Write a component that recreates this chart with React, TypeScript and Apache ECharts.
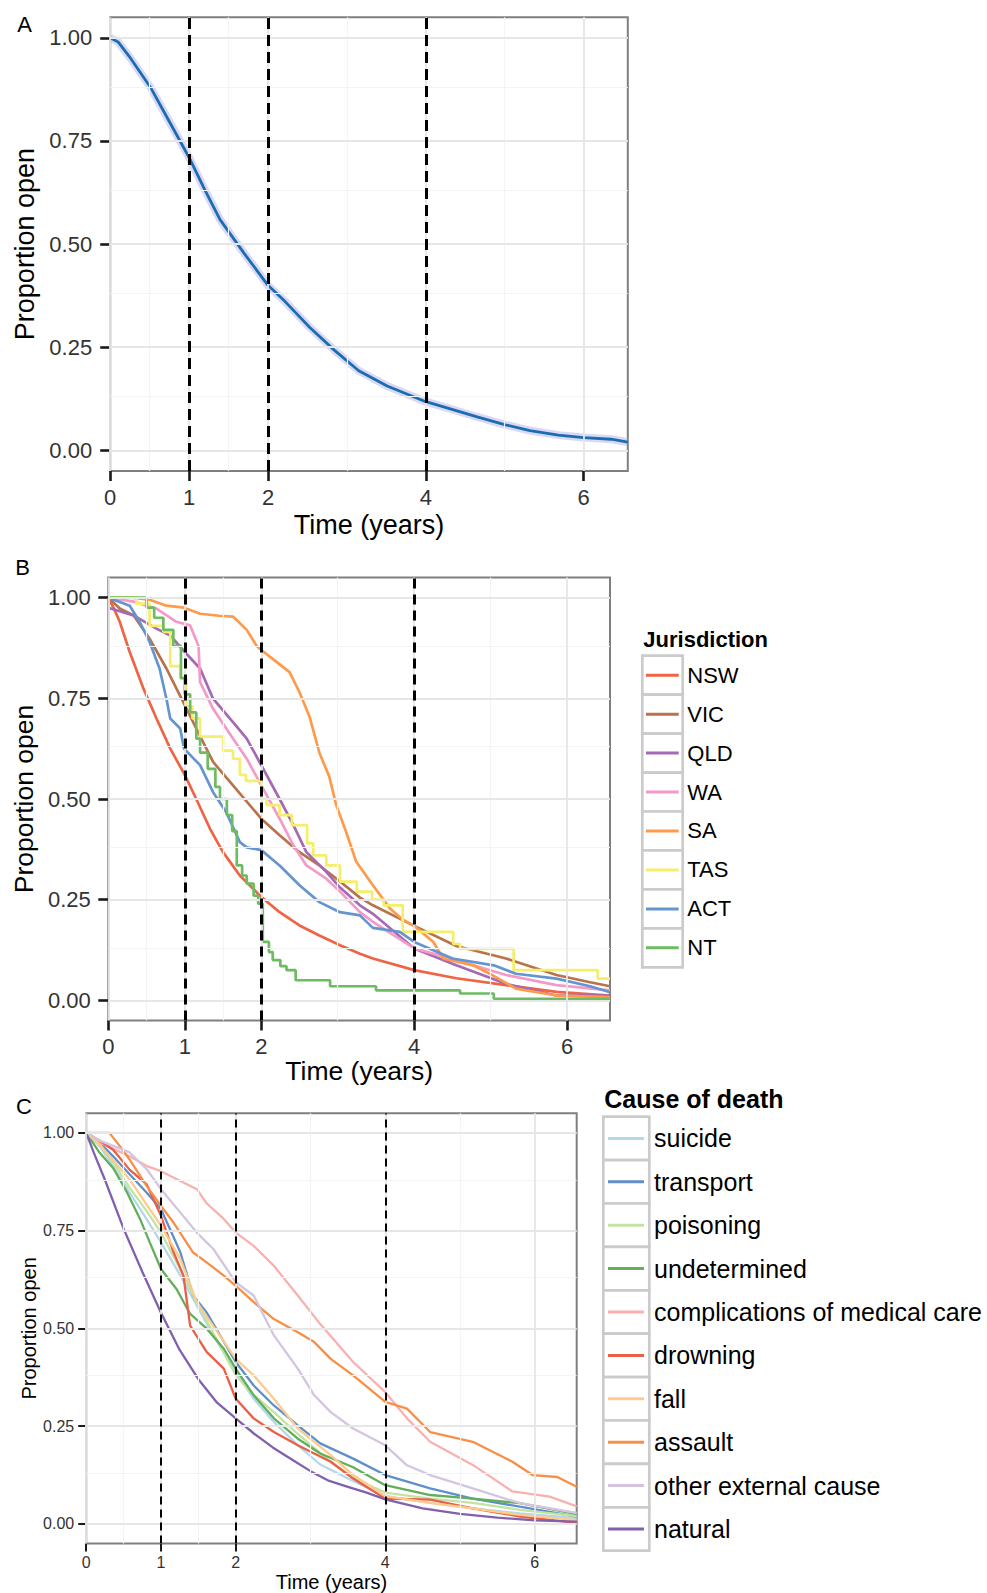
import React, { useEffect, useRef } from "react";
import * as echarts from "echarts";

// ---------- data ----------
const X_TICKS = [0, 1, 2, 4, 6];
const X_MINOR = [0.5, 1.5, 3, 5];
const Y_TICKS = [0, 0.25, 0.5, 0.75, 1];
const Y_MINOR = [0.125, 0.375, 0.625, 0.875];
const V_LINES = [1, 2, 4];
const X_MAX = 6.56;

// Panel A: all deaths
const ALL_CURVE = [
  [0, 1.0], [0.1, 0.99], [0.26, 0.95], [0.52, 0.877], [0.77, 0.79], [1.0, 0.71],
  [1.19, 0.635], [1.39, 0.56], [1.7, 0.477], [2.0, 0.4], [2.22, 0.36], [2.53, 0.298],
  [2.84, 0.243], [3.15, 0.193], [3.51, 0.156], [4.0, 0.118], [4.29, 0.102], [4.65, 0.081],
  [5.01, 0.062], [5.32, 0.048], [5.68, 0.037], [6.0, 0.031], [6.35, 0.027], [6.56, 0.02],
];

// Panel B: jurisdictions
const JURISDICTIONS = ["NSW", "VIC", "QLD", "WA", "SA", "TAS", "ACT", "NT"];
const NSW = [
  [0, 1.0], [0.08, 0.97], [0.15, 0.94], [0.28, 0.865], [0.46, 0.774], [0.63, 0.7], [0.81, 0.625],
  [1.0, 0.56], [1.15, 0.5], [1.33, 0.426], [1.5, 0.368], [1.72, 0.31], [2.0, 0.257], [2.24, 0.219],
  [2.5, 0.186], [2.76, 0.161], [3.03, 0.137], [3.29, 0.116], [3.46, 0.104], [4.0, 0.075],
  [4.55, 0.055], [5.2, 0.038], [5.86, 0.021], [6.56, 0.012],
];
const VIC = [
  [0, 1.0], [0.15, 0.973], [0.33, 0.956], [0.54, 0.898], [0.76, 0.824], [1.0, 0.733], [1.15, 0.675],
  [1.37, 0.592], [1.63, 0.534], [2.0, 0.451], [2.24, 0.41], [2.5, 0.368], [2.76, 0.335], [3.03, 0.295],
  [3.29, 0.255], [3.46, 0.236], [4.0, 0.185], [4.55, 0.135], [5.2, 0.104], [5.86, 0.063],
  [6.3, 0.045], [6.56, 0.035],
];
const QLD = [
  [0, 0.975], [0.33, 0.956], [0.63, 0.923], [0.81, 0.906], [1.0, 0.865], [1.2, 0.824], [1.37, 0.749],
  [1.63, 0.691], [1.81, 0.65], [2.0, 0.584], [2.24, 0.5], [2.42, 0.435], [2.59, 0.368], [2.85, 0.319],
  [3.03, 0.28], [3.29, 0.236], [3.46, 0.215], [4.0, 0.129], [4.55, 0.087], [5.2, 0.041],
  [5.86, 0.012], [6.56, 0.012],
];
const WA = [
  [0, 1.0], [0.33, 0.99], [0.63, 0.973], [0.89, 0.94], [1.07, 0.931], [1.18, 0.88], [1.2, 0.79],
  [1.37, 0.724], [1.63, 0.65], [1.81, 0.6], [2.0, 0.534], [2.24, 0.451], [2.42, 0.385], [2.59, 0.335],
  [2.85, 0.302], [3.03, 0.27], [3.29, 0.219], [3.46, 0.195], [4.0, 0.129], [4.55, 0.1], [5.2, 0.063],
  [5.86, 0.038], [6.56, 0.025],
];
const SA = [
  [0, 1.0], [0.3, 1.0], [0.54, 0.995], [0.76, 0.98], [0.99, 0.975], [1.2, 0.96], [1.45, 0.955],
  [1.63, 0.953], [1.81, 0.92], [1.94, 0.88], [2.0, 0.87], [2.15, 0.848], [2.37, 0.815], [2.5, 0.765],
  [2.63, 0.705], [2.76, 0.615], [2.89, 0.555], [2.98, 0.485], [3.11, 0.418], [3.24, 0.345],
  [3.46, 0.286], [3.68, 0.229], [3.85, 0.2], [4.0, 0.185], [4.25, 0.145], [4.38, 0.104],
  [4.77, 0.087], [5.0, 0.065], [5.33, 0.029], [5.86, 0.012], [6.56, 0.008],
];
const TAS = [
  [0, 1.0], [0.37, 0.985], [0.54, 0.93], [0.72, 0.915], [0.81, 0.83], [0.94, 0.8], [1.02, 0.73],
  [1.1, 0.7], [1.2, 0.655], [1.5, 0.62], [1.63, 0.6], [1.72, 0.56], [1.8, 0.545], [2.0, 0.5],
  [2.07, 0.485], [2.24, 0.46], [2.4, 0.435], [2.6, 0.39], [2.68, 0.36], [2.85, 0.335],
  [3.03, 0.295], [3.25, 0.27], [3.45, 0.25], [3.6, 0.236], [3.85, 0.17], [4.51, 0.14],
  [4.6, 0.128], [5.3, 0.075], [6.4, 0.054], [6.56, 0.054],
];
const ACT = [
  [0, 1.0], [0.28, 0.98], [0.41, 0.94], [0.54, 0.89], [0.67, 0.824], [0.76, 0.749], [0.81, 0.7],
  [0.94, 0.675], [0.99, 0.625], [1.2, 0.584], [1.37, 0.517], [1.54, 0.468], [1.72, 0.393],
  [1.81, 0.38], [2.0, 0.373], [2.24, 0.335], [2.5, 0.286], [2.76, 0.244], [3.03, 0.219],
  [3.29, 0.211], [3.46, 0.18], [3.81, 0.17], [4.0, 0.145], [4.5, 0.104], [5.04, 0.087],
  [5.33, 0.066], [5.86, 0.054], [6.3, 0.035], [6.56, 0.02],
];
const NT = [
  [0, 1.0], [0.5, 0.975], [0.6, 0.95], [0.72, 0.92], [0.85, 0.88], [0.95, 0.8], [1.0, 0.76],
  [1.07, 0.715], [1.15, 0.65], [1.2, 0.615], [1.3, 0.575], [1.4, 0.53], [1.46, 0.5], [1.55, 0.46],
  [1.62, 0.42], [1.68, 0.335], [1.75, 0.31], [1.81, 0.29], [1.9, 0.26], [1.96, 0.24], [2.02, 0.145],
  [2.1, 0.12], [2.15, 0.1], [2.25, 0.085], [2.33, 0.075], [2.45, 0.05], [2.9, 0.035], [3.5, 0.025],
  [4.6, 0.017], [5.04, 0.004], [6.56, 0.004],
];
const JUR_CURVES = [NSW, VIC, QLD, WA, SA, TAS, ACT, NT];
const JUR_STEPPED = [false, false, false, false, false, true, false, true];

// Panel C: causes of death
const CAUSES = [
  "suicide", "transport", "poisoning", "undetermined", "complications of medical care",
  "drowning", "fall", "assault", "other external cause", "natural",
];
const SUICIDE = [
  [0, 1.0], [0.18, 0.966], [0.36, 0.915], [0.58, 0.847], [0.81, 0.779], [1.0, 0.72], [1.26, 0.635],
  [1.48, 0.558], [1.7, 0.482], [2.0, 0.388], [2.24, 0.32], [2.51, 0.261], [2.83, 0.201],
  [3.13, 0.152], [3.57, 0.11], [4.0, 0.071], [4.6, 0.054], [5.17, 0.04], [5.8, 0.027], [6.56, 0.015],
];
const TRANSPORT = [
  [0, 1.0], [0.18, 0.975], [0.36, 0.94], [0.58, 0.894], [0.81, 0.847], [1.0, 0.805], [1.12, 0.754],
  [1.26, 0.694], [1.43, 0.584], [1.61, 0.541], [1.79, 0.482], [2.0, 0.414], [2.24, 0.354],
  [2.51, 0.303], [2.83, 0.252], [3.13, 0.206], [3.57, 0.167], [4.0, 0.125], [4.6, 0.091],
  [5.17, 0.065], [5.8, 0.044], [6.56, 0.019],
];
const POISONING = [
  [0, 1.0], [0.18, 0.97], [0.36, 0.925], [0.58, 0.86], [0.81, 0.8], [1.0, 0.745], [1.26, 0.65],
  [1.48, 0.567], [1.75, 0.47], [2.0, 0.38], [2.24, 0.33], [2.51, 0.286], [2.83, 0.23],
  [3.27, 0.159], [3.6, 0.115], [4.0, 0.08], [4.6, 0.065], [5.17, 0.054], [5.8, 0.036], [6.56, 0.02],
];
const UNDETERMINED = [
  [0, 1.0], [0.18, 0.949], [0.36, 0.91], [0.54, 0.85], [0.72, 0.78], [0.85, 0.72], [1.0, 0.652],
  [1.21, 0.6], [1.39, 0.537], [1.61, 0.5], [1.84, 0.448], [2.0, 0.397], [2.24, 0.329], [2.51, 0.27],
  [2.83, 0.218], [3.13, 0.18], [3.57, 0.145], [4.0, 0.099], [4.6, 0.074], [5.17, 0.065],
  [5.8, 0.053], [6.56, 0.025],
];
const COMPLICATIONS = [
  [0, 1.0], [0.18, 0.975], [0.58, 0.94], [0.81, 0.915], [1.0, 0.902], [1.26, 0.877], [1.48, 0.856],
  [1.61, 0.82], [1.84, 0.78], [2.0, 0.745], [2.24, 0.711], [2.51, 0.66], [2.83, 0.584],
  [3.13, 0.511], [3.57, 0.414], [4.0, 0.337], [4.29, 0.27], [4.6, 0.21], [5.17, 0.151],
  [5.7, 0.083], [6.2, 0.07], [6.56, 0.045],
];
const DROWNING = [
  [0, 1.0], [0.18, 0.98], [0.36, 0.957], [0.58, 0.906], [0.81, 0.868], [1.0, 0.788], [1.17, 0.694],
  [1.3, 0.635], [1.39, 0.507], [1.61, 0.44], [1.84, 0.397], [2.0, 0.32], [2.24, 0.27], [2.51, 0.235],
  [2.83, 0.201], [3.27, 0.159], [3.57, 0.116], [4.0, 0.065], [4.6, 0.062], [5.17, 0.04],
  [5.8, 0.019], [6.56, 0.003],
];
const FALL = [
  [0, 1.0], [0.18, 0.97], [0.58, 0.881], [1.0, 0.762], [1.26, 0.677], [1.48, 0.567], [2.0, 0.422],
  [2.24, 0.38], [2.51, 0.32], [2.83, 0.244], [3.27, 0.176], [3.57, 0.125], [4.0, 0.071],
  [4.6, 0.054], [5.17, 0.04], [5.8, 0.023], [6.56, 0.01],
];
const ASSAULT = [
  [0, 1.0], [0.31, 1.0], [0.45, 0.966], [0.58, 0.932], [0.81, 0.864], [1.0, 0.813], [1.17, 0.77],
  [1.43, 0.694], [1.61, 0.669], [1.84, 0.635], [2.0, 0.609], [2.24, 0.567], [2.51, 0.524],
  [2.83, 0.49], [3.05, 0.465], [3.27, 0.422], [3.57, 0.38], [4.0, 0.312], [4.29, 0.295],
  [4.6, 0.235], [5.17, 0.21], [5.7, 0.159], [5.97, 0.125], [6.3, 0.12], [6.56, 0.095],
];
const OTHER_EXTERNAL = [
  [0, 1.0], [0.18, 0.98], [0.58, 0.95], [0.81, 0.907], [1.0, 0.856], [1.26, 0.796], [1.48, 0.745],
  [1.7, 0.703], [2.0, 0.618], [2.24, 0.584], [2.51, 0.482], [2.83, 0.397], [3.05, 0.329],
  [3.27, 0.286], [3.57, 0.244], [4.0, 0.201], [4.29, 0.15], [4.6, 0.125], [5.17, 0.091],
  [5.8, 0.053], [6.56, 0.028],
];
const NATURAL = [
  [0, 1.0], [0.1, 0.95], [0.25, 0.88], [0.5, 0.755], [0.75, 0.645], [1.0, 0.54], [1.25, 0.445],
  [1.5, 0.37], [1.75, 0.31], [2.0, 0.27], [2.25, 0.23], [2.5, 0.195], [2.75, 0.165], [3.0, 0.135],
  [3.25, 0.11], [3.5, 0.095], [3.75, 0.08], [4.0, 0.063], [4.5, 0.04], [5.0, 0.026], [5.5, 0.016],
  [6.0, 0.009], [6.56, 0.006],
];
const CAUSE_CURVES = [
  SUICIDE, TRANSPORT, POISONING, UNDETERMINED, COMPLICATIONS,
  DROWNING, FALL, ASSAULT, OTHER_EXTERNAL, NATURAL,
];

// ---------- styles ----------
const FONT = "'Liberation Sans', Arial, Helvetica, sans-serif";
const JUR_COLORS = ["#EE6444", "#B8734A", "#A569B5", "#F49AC8", "#FF9A4A", "#F5EE6A", "#6595D0", "#6EBB63"];
const CAUSE_COLORS = [
  "#B4D8EA", "#5E8FCB", "#C3E3A3", "#62AE5B", "#F9B1B0",
  "#EB5E48", "#FDCB8C", "#F98E45", "#D5C4E0", "#8160AE",
];

const GRIDS = [
  { left: 110.2, top: 17.2, width: 517.6, height: 453.8 },
  { left: 108.3, top: 577.5, width: 501.7, height: 443 },
  { left: 86.2, top: 1113.3, width: 490.5, height: 431.7 },
];
const PANEL = [
  { tickFont: 22, nameFont: 27, yLabMargin: 18, xLabMargin: 15, xNameGap: 40, yNameGap: 60, tickLen: 10, tickW: 2.6, dashW: 3, dash: [11, 6], lineW: 2.8 },
  { tickFont: 22, nameFont: 26.5, yLabMargin: 17.5, xLabMargin: 14.5, xNameGap: 37, yNameGap: 65.7, tickLen: 10, tickW: 2.6, dashW: 3, dash: [10, 6], lineW: 2.7 },
  { tickFont: 16, nameFont: 20, yLabMargin: 12, xLabMargin: 10.5, xNameGap: 28.5, yNameGap: 46, tickLen: 8, tickW: 2, dashW: 2, dash: [8, 5], lineW: 2.3 },
];

function buildOption() {
  const xAxis = PANEL.map((p, i) => ({
    type: "value",
    gridIndex: i,
    position: "bottom",
    min: 0,
    max: X_MAX,
    axisLine: { show: false, onZero: false },
    splitLine: { show: false },
    axisTick: { show: true, customValues: X_TICKS, length: p.tickLen, lineStyle: { color: "#1a1a1a", width: p.tickW } },
    axisLabel: { customValues: X_TICKS, fontSize: p.tickFont, color: "#333", margin: p.xLabMargin, fontFamily: FONT },
    name: "Time (years)",
    nameLocation: "middle",
    nameGap: p.xNameGap,
    nameTextStyle: { fontSize: p.nameFont, color: "#000", fontFamily: FONT },
  }));
  const yAxis = PANEL.map((p, i) => ({
    type: "value",
    gridIndex: i,
    position: "left",
    min: -0.05,
    max: 1.05,
    axisLine: { show: false, onZero: false },
    splitLine: { show: false },
    axisTick: { show: true, customValues: Y_TICKS, length: p.tickLen, lineStyle: { color: "#1a1a1a", width: p.tickW } },
    axisLabel: {
      customValues: Y_TICKS,
      fontSize: p.tickFont,
      color: "#333",
      margin: p.yLabMargin,
      fontFamily: FONT,
      formatter: (v: number) => v.toFixed(2),
    },
    name: "Proportion open",
    nameLocation: "middle",
    nameRotate: 90,
    nameGap: p.yNameGap,
    nameTextStyle: { fontSize: p.nameFont, color: "#000", fontFamily: FONT },
  }));

  const series: any[] = [];
  PANEL.forEach((p, i) => {
    // background grid lines
    series.push({
      type: "line",
      xAxisIndex: i,
      yAxisIndex: i,
      data: [[0, 0]],
      showSymbol: false,
      symbol: "none",
      lineStyle: { opacity: 0 },
      silent: true,
      z: 1,
      markLine: {
        silent: true,
        symbol: ["none", "none"],
        label: { show: false },
        animation: false,
        data: [
          ...X_MINOR.map((v) => ({ xAxis: v, lineStyle: { color: "#F4F4F4", width: 1.2, type: "solid" } })),
          ...Y_MINOR.map((v) => ({ yAxis: v, lineStyle: { color: "#F4F4F4", width: 1.2, type: "solid" } })),
          ...X_TICKS.map((v) => ({ xAxis: v, lineStyle: { color: "#E6E6E6", width: 1.8, type: "solid" } })),
          ...Y_TICKS.map((v) => ({ yAxis: v, lineStyle: { color: "#E6E6E6", width: 1.8, type: "solid" } })),
        ],
      },
    });
  });

  // Panel A
  series.push({
    type: "line", name: "band", xAxisIndex: 0, yAxisIndex: 0, data: ALL_CURVE,
    showSymbol: false, symbol: "none", silent: true, z: 2,
    lineStyle: { color: "rgba(170,170,232,0.45)", width: 8 },
  });
  series.push({
    type: "line", name: "All", xAxisIndex: 0, yAxisIndex: 0, data: ALL_CURVE,
    showSymbol: false, symbol: "none", silent: true, z: 3,
    lineStyle: { color: "#1B6DB3", width: PANEL[0].lineW },
  });

  // Panel B
  JURISDICTIONS.forEach((name, k) => {
    series.push({
      type: "line", name, xAxisIndex: 1, yAxisIndex: 1, data: JUR_CURVES[k],
      showSymbol: false, symbol: "none", silent: true, z: 3,
      step: JUR_STEPPED[k] ? "end" : false,
      lineStyle: { color: JUR_COLORS[k], width: PANEL[1].lineW },
    });
  });

  // Panel C
  CAUSES.forEach((name, k) => {
    series.push({
      type: "line", name, xAxisIndex: 2, yAxisIndex: 2, data: CAUSE_CURVES[k],
      showSymbol: false, symbol: "none", silent: true, z: 3,
      lineStyle: { color: CAUSE_COLORS[k], width: PANEL[2].lineW },
    });
  });

  // dashed reference lines
  PANEL.forEach((p, i) => {
    series.push({
      type: "line",
      xAxisIndex: i,
      yAxisIndex: i,
      data: [[0, 0]],
      showSymbol: false,
      symbol: "none",
      lineStyle: { opacity: 0 },
      silent: true,
      z: 4,
      markLine: {
        silent: true,
        symbol: ["none", "none"],
        label: { show: false },
        animation: false,
        lineStyle: { color: "#000", width: p.dashW, type: p.dash },
        data: V_LINES.map((v) => ({ xAxis: v })),
      },
    });
  });

  // legends & panel letters
  const graphic: any[] = [];
  const letter = (t: string, x: number, y: number) => ({
    type: "text",
    x,
    y,
    style: { text: t, fontSize: 22, fontFamily: FONT, fill: "#000", align: "center", verticalAlign: "middle", textAlign: "center", textVerticalAlign: "middle" },
  });
  graphic.push(letter("A", 24.5, 24), letter("B", 22.6, 567), letter("C", 24, 1106.5));

  const legend = (
    title: string, names: string[], colors: string[],
    x: number, titleY: number, top: number, boxW: number, boxH: number,
    lineX1: number, lineX2: number, labelX: number, fontSize: number, titleSize: number,
  ) => {
    graphic.push({
      type: "text", x, y: titleY,
      style: { text: title, fontSize: titleSize, fontWeight: "bold", fontFamily: FONT, fill: "#000", verticalAlign: "middle", textVerticalAlign: "middle" },
    });
    names.forEach((n, k) => {
      const y0 = top + k * boxH;
      graphic.push({
        type: "rect",
        shape: { x: x - 1, y: y0, width: boxW, height: boxH },
        style: { fill: "#fff", stroke: "#CBCBCB", lineWidth: 2.7 },
      });
      graphic.push({
        type: "line",
        shape: { x1: lineX1, y1: y0 + boxH / 2, x2: lineX2, y2: y0 + boxH / 2 },
        style: { stroke: colors[k], lineWidth: 3 },
      });
      graphic.push({
        type: "text", x: labelX, y: y0 + boxH / 2,
        style: { text: n, fontSize, fontFamily: FONT, fill: "#000", verticalAlign: "middle", textVerticalAlign: "middle" },
      });
    });
  };
  legend("Jurisdiction", JURISDICTIONS, JUR_COLORS, 643.3, 639, 655.7, 40.4, 38.95, 646, 678.7, 687.3, 22, 22);
  legend("Cause of death", CAUSES, CAUSE_COLORS, 604.3, 1099, 1116.7, 46, 43.4, 608, 644, 654, 25, 25);

  return {
    animation: false,
    backgroundColor: "#fff",
    grid: GRIDS.map((g) => ({ ...g, show: true, borderColor: "#7F7F7F", borderWidth: 2, backgroundColor: "#fff", containLabel: false })),
    xAxis,
    yAxis,
    series,
    graphic,
  };
}

export default function App() {
  const ref = useRef<HTMLDivElement>(null);
  useEffect(() => {
    if (!ref.current) return;
    const chart = echarts.init(ref.current, undefined, { renderer: "svg" });
    chart.setOption(buildOption() as any);
    return () => chart.dispose();
  }, []);
  return (
    <div
      ref={ref}
      style={{ position: "absolute", left: 0, top: 0, width: 987, height: 1593, background: "#fff" }}
    />
  );
}
